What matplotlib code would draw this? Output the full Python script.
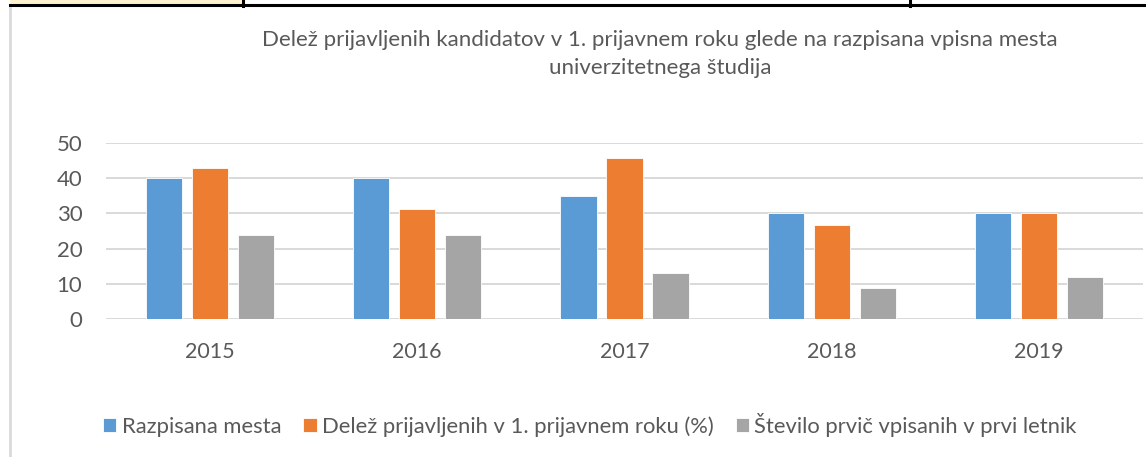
import numpy as np
import matplotlib
matplotlib.use("Agg")
import matplotlib.pyplot as plt
from matplotlib.patches import Rectangle
from matplotlib.lines import Line2D

plt.rcParams['font.family'] = ['Lato', 'DejaVu Sans']

# data
years = ['2015', '2016', '2017', '2018', '2019']
razpisana = [40, 40, 35, 30, 30]
delez = [42.8, 31.3, 45.6, 26.6, 30]
vpisani = [24, 24, 13, 9, 12]
series_names = ['Razpisana mesta', 'Delež prijavljenih v 1. prijavnem roku (%)',
                'Število prvič vpisanih v prvi letnik']
colors = ['#5B9BD5', '#ED7D31', '#A5A5A5']

W, H = 1146, 457
fig = plt.figure(figsize=(W / 100, H / 100), dpi=100)

# page decoration: top table row and chart border
fig.patches.append(Rectangle((10 / W, 1 - 4 / H), 233 / W, 4 / H, transform=fig.transFigure,
                             facecolor='#FFF2CC', edgecolor='none'))
fig.lines.append(Line2D([10 / W, 1], [1 - 5 / H, 1 - 5 / H], transform=fig.transFigure,
                        color='black', lw=2.2))
for xv in [243, 910]:
    fig.lines.append(Line2D([xv / W, xv / W], [1 - 6 / H, 1], transform=fig.transFigure,
                            color='black', lw=2.2))
fig.lines.append(Line2D([9.5 / W, 9.5 / W], [0, 1 - 8 / H], transform=fig.transFigure,
                        color='#D9D9D9', lw=2))

# axes placed in pixel units
left, right, top, bottom = 106, 1143, 142.7, 319.3
ax = fig.add_axes([left / W, 1 - bottom / H, (right - left) / W, (bottom - top) / H])

x = np.arange(len(years))
bw = 0.174
step = 0.222
for i, (vals, c) in enumerate(zip([razpisana, delez, vpisani], colors)):
    ax.bar(x + (i - 1) * step, vals, width=bw, color=c, edgecolor='white', linewidth=0.6,
           label=series_names[i], zorder=3)

ax.set_xlim(-0.5, len(years) - 0.5)
ax.set_ylim(0, 50)
ax.set_yticks(range(0, 51, 10))
ax.set_xticks(x)
ax.set_xticklabels(years)
ax.grid(axis='y', color='#D9D9D9', linewidth=1.4, zorder=0)
ax.grid(axis='x', visible=False)
for s in ['left', 'right', 'top', 'bottom']:
    ax.spines[s].set_visible(False)
ax.tick_params(axis='y', length=0, pad=17, labelsize=16, labelcolor='#595959')
ax.tick_params(axis='x', length=0, pad=16, labelsize=15.5, labelcolor='#595959')

fig.text(660 / W, 1 - 40 / H,
         'Delež prijavljenih kandidatov v 1. prijavnem roku glede na razpisana vpisna mesta',
         ha='center', va='center', fontsize=16, color='#595959')
fig.text(660 / W, 1 - 68 / H, 'univerzitetnega študija',
         ha='center', va='center', fontsize=16, color='#595959')

leg = fig.legend(loc='center', bbox_to_anchor=(590 / W, 1 - 425 / H), ncol=3, frameon=False,
                 fontsize=15.8, handlelength=0.6, handleheight=0.6, handletextpad=0.25,
                 columnspacing=1.0, labelcolor='#595959')

fig.savefig('out.png', dpi=100)
